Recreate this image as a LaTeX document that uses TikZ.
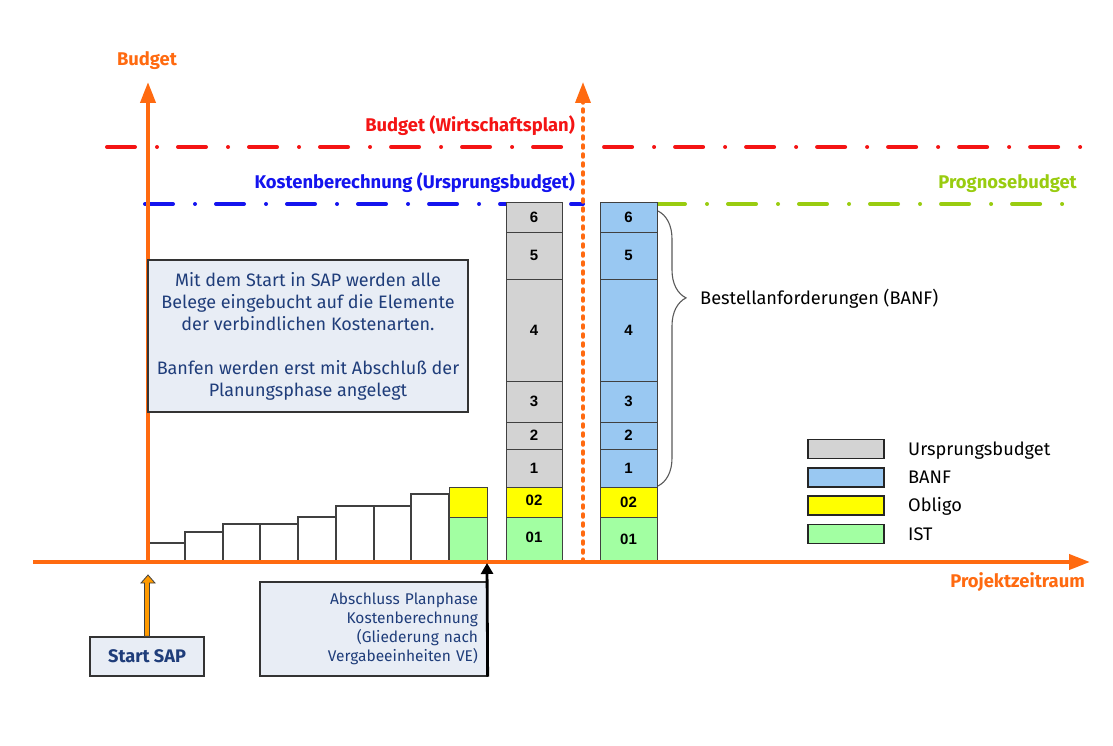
\documentclass[tikz,border=0pt]{standalone}
\usepackage{fontspec}
\setmainfont{Fira Sans}
\newfontfamily\numfont{Liberation Sans}
\usetikzlibrary{arrows.meta, decorations.pathreplacing, calc}

\definecolor{axisorange}{HTML}{FF6A10}
\definecolor{planred}{HTML}{F41414}
\definecolor{kbblue}{HTML}{1414EE}
\definecolor{proggreen}{HTML}{99CC10}
\definecolor{txtblue}{HTML}{1F3D7A}
\definecolor{boxfill}{HTML}{E8EDF5}
\definecolor{ubgray}{HTML}{D3D3D3}
\definecolor{banfblue}{HTML}{99C8F2}
\definecolor{obyellow}{HTML}{FFFF00}
\definecolor{istgreen}{HTML}{A2FFA2}
\definecolor{sapamber}{HTML}{FF9A00}

\tikzset{
  axis/.style = {axisorange, line width = 4pt, -{Triangle[width = 15pt, length = 21pt]}},
  budgetline/.style = {line width = 4pt, line cap = round,
                       dash pattern = on 28pt off 22pt on 0.01pt off 21pt},
  seg/.style = {draw = black!75, line width = 1pt},
  stair/.style = {draw = black!75, line width = 1.3pt, fill = white},
  num/.style = {font = \numfont\bfseries\fontsize{15}{17}\selectfont},
  linelabel/.style = {font = \bfseries\fontsize{18.4}{21}\selectfont, anchor = base east, inner sep = 0pt},
  infobox/.style = {draw = black!80, line width = 1.3pt, fill = boxfill, text = txtblue},
  legendbox/.style = {draw = black!85, line width = 1.5pt, minimum width = 76pt, minimum height = 19pt},
  plain/.style = {font = \fontsize{18.2}{21}\selectfont, anchor = base west, inner sep = 0pt}
}

\begin{document}
\begin{tikzpicture}[x = 1pt, y = -1pt]
  \useasboundingbox (0, 0) rectangle (1113, 746);

  \coordinate (origin) at (148, 562);
  \coordinate (ytip) at (148, 82);
  \coordinate (xstart) at (33, 562);
  \coordinate (xtip) at (1090, 562);
  \coordinate (now) at (583, 562);
  \coordinate (nowtip) at (583, 82);

  % budget lines
  \draw [budgetline, planred] (107, 147) -- (1082, 147);
  \draw [budgetline, kbblue] (145, 204) -- (583, 204);
  \draw [budgetline, proggreen] (657, 204) -- (1082, 204);
  \node [linelabel, planred] (wplabel) at (575, 132) {Budget (Wirtschaftsplan)};
  \node [linelabel, kbblue] (kblabel) at (575, 189) {Kostenberechnung (Ursprungsbudget)};
  \node [linelabel, proggreen] (pglabel) at (1077, 189) {Prognosebudget};

  % staircase
  \foreach \xa/\xb/\top in {148/185/543, 185/223/532, 223/260/524, 260/298/524,
                            298/336/517, 336/374/506, 374/411/506, 411/449/494}
    \draw [stair] (\xa, \top) rectangle (\xb, 562);
  \draw [seg, fill = istgreen] (449, 517) rectangle (487, 562);
  \draw [seg, fill = obyellow] (449, 487) rectangle (487, 517);

  % Ursprungsbudget and BANF columns
  \foreach \lab/\ya/\yb in {6/203/232, 5/232/279, 4/279/381, 3/381/422, 2/422/449, 1/449/487} {
    \draw [seg, fill = ubgray] (506, \ya) rectangle (562, \yb);
    \draw [seg, fill = banfblue] (600, \ya) rectangle (657, \yb);
    \node [num] (ub\lab) at (534, {(\ya + \yb) / 2}) {\lab};
    \node [num] (banf\lab) at (628.5, {(\ya + \yb) / 2}) {\lab};
  }
  \foreach \col/\lab/\ya/\yb in {obyellow/02/487/517, istgreen/01/517/562} {
    \draw [seg, fill = \col] (506, \ya) rectangle (562, \yb);
    \draw [seg, fill = \col] (600, \ya) rectangle (657, \yb);
    \node [num] (ub\lab) at (534, {(\ya + \yb) / 2 - 2}) {\lab};
    \node [num] (banf\lab) at (628.5, {(\ya + \yb) / 2}) {\lab};
  }

  % axes
  \draw [axis] (xstart) -- (xtip);
  \draw [axis] (origin) -- (ytip);
  \draw [axis, line width = 3.5pt, dash pattern = on 3pt off 6pt, line cap = round] (now) -- (nowtip);
  \node [font = \bfseries\fontsize{18.4}{21}\selectfont, axisorange, anchor = base, inner sep = 0pt] (ylabel) at (147, 66) {Budget};
  \node [linelabel, axisorange] (xlabel) at (1085, 587) {Projektzeitraum};

  % BANF brace
  \draw [decorate, decoration = {brace, amplitude = 28pt, aspect = 0.316}, black!65, line width = 1.1pt]
        (658, 211) -- (658, 486);
  \node [plain] (banflabel) at (700, 304) {Bestellanforderungen (BANF)};

  % text boxes
  \node [infobox, minimum width = 320pt, minimum height = 152pt, align = center,
         font = \fontsize{18}{22}\selectfont] (info) at (308, 336)
        {Mit dem Start in SAP werden alle\\Belege eingebucht auf die Elemente\\der verbindlichen Kostenarten.\\[22pt]
         Banfen werden erst mit Abschluß der\\Planungsphase angelegt};
  \node [infobox, minimum width = 114pt, minimum height = 39pt,
         font = \bfseries\fontsize{18.2}{21}\selectfont] (sap) at (147, 656.5) {Start SAP};
  \node [infobox, minimum width = 227pt, minimum height = 94pt, text width = 209pt, inner xsep = 9pt,
         align = right, font = \fontsize{15.5}{19}\selectfont] (plan) at (373.5, 629)
        {Abschluss Planphase\\Kostenberechnung\\(Gliederung nach\\Vergabeeinheiten VE)};

  % arrows to the time axis
  \coordinate (saptip) at (148, 575);
  \draw [draw = black!75, fill = sapamber, line width = 0.8pt]
        ([xshift = -2.5pt]sap.north) |- ([xshift = -7pt, yshift = -8pt]saptip) -- (saptip)
        -- ([xshift = 7pt, yshift = -8pt]saptip) -| ([xshift = 2.5pt]sap.north) -- cycle;
  \coordinate (plantip) at (487, 563);
  \draw [line width = 2.8pt, -{Triangle[width = 12pt, length = 11pt]}] (plan.south east) -- (plantip);

  % legend
  \foreach \col/\lab/\y in {ubgray/Ursprungsbudget/449, banfblue/BANF/477.5, obyellow/Obligo/505.5, istgreen/IST/534} {
    \node [legendbox, fill = \col] (key\lab) at (846, \y) {};
    \node [plain] (txt\lab) at (908, \y + 6) {\lab};
  }
\end{tikzpicture}
\end{document}
